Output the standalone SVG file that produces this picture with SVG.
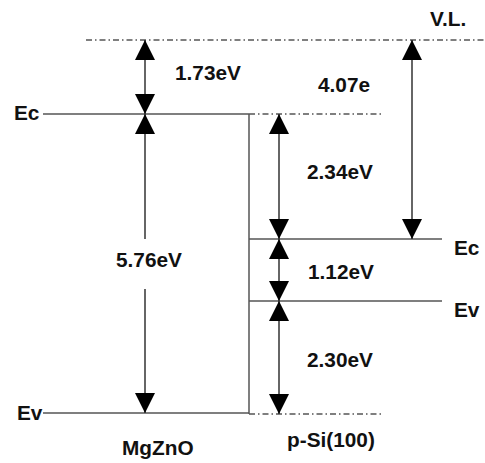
<svg xmlns="http://www.w3.org/2000/svg" width="485" height="463" viewBox="0 0 485 463">
<style>
.lvl{stroke:#555;stroke-width:1.5;fill:none}
.dd{stroke:#555;stroke-width:1.5;fill:none;stroke-dasharray:6,3,1.5,3}
.arr{stroke:#333;stroke-width:1.5;fill:none}
.a2{marker-start:url(#ah);marker-end:url(#ah)}
.ae{marker-end:url(#ah)}
.as{marker-start:url(#ah)}
text{font-family:"Liberation Sans",Arial,Helvetica,sans-serif;font-weight:bold;font-size:20.8px;fill:#111}
</style>
<defs>
<marker id="ah" markerUnits="userSpaceOnUse" markerWidth="20" markerHeight="20" viewBox="0 0 20 20" refX="20" refY="10" orient="auto-start-reverse">
<path d="M0,0 L20,10 L0,20 z" fill="#000"/>
</marker>
</defs>
<g id="levels">
<line class="dd" x1="86" y1="40" x2="485" y2="40"/>
<line class="lvl" x1="43" y1="114" x2="249" y2="114"/>
<line class="lvl" x1="249" y1="114" x2="249" y2="414"/>
<line class="lvl" x1="43" y1="413" x2="249" y2="413"/>
<line class="dd" x1="249" y1="114" x2="383" y2="114"/>
<line class="dd" x1="249" y1="414" x2="383" y2="414"/>
<line class="lvl" x1="249" y1="239" x2="442" y2="239"/>
<line class="lvl" x1="249" y1="301" x2="442" y2="301"/>
</g>
<g id="connectors">
<line class="arr a2" x1="145" y1="40" x2="145" y2="114"/>
<line class="arr as" x1="145" y1="114" x2="145" y2="239"/>
<line class="arr ae" x1="145" y1="289" x2="145" y2="413"/>
<line class="arr a2" x1="279" y1="114" x2="279" y2="239"/>
<line class="arr a2" x1="279" y1="239" x2="279" y2="301"/>
<line class="arr a2" x1="279" y1="301" x2="279" y2="414"/>
<line class="arr a2" x1="412" y1="40" x2="412" y2="239"/>
</g>
<g id="labels">
<text x="430" y="26">V.L.</text>
<text x="175" y="80">1.73eV</text>
<text x="318" y="92">4.07e</text>
<text x="14" y="120">Ec</text>
<text x="116" y="267">5.76eV</text>
<text x="307" y="179">2.34eV</text>
<text x="454" y="255">Ec</text>
<text x="308" y="279">1.12eV</text>
<text x="454" y="317">Ev</text>
<text x="307" y="367">2.30eV</text>
<text x="17" y="420">Ev</text>
<text x="122" y="455">MgZnO</text>
<text x="287" y="447">p-Si(100)</text>
</g>
</svg>
